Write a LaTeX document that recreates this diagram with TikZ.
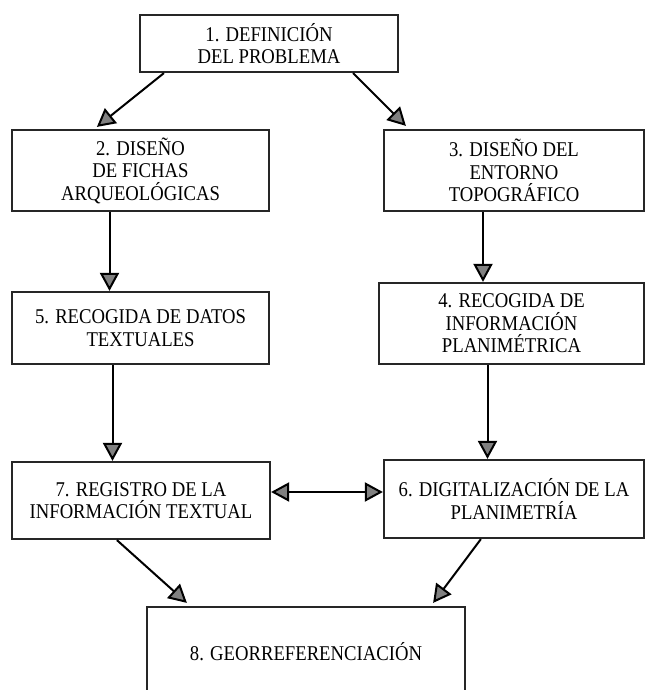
\documentclass[tikz,border=0pt]{standalone}
\usepackage{fontspec}
\setmainfont{Liberation Serif}[FakeStretch=0.89]
\usetikzlibrary{arrows.meta}

\begin{document}
\begin{tikzpicture}[x=1pt, y=-1pt,
    >={Triangle[length=18pt, width=19pt, fill=gray]},
    box/.style={draw=black!85, line width=2.2pt, align=center, inner sep=0pt,
        font=\fontsize{21}{22.5}\selectfont},
    arr/.style={draw=black, line width=2pt, ->}]
    % Page
    \path[use as bounding box, clip] (0,0) rectangle (647,690);

    % Boxes
    \node[box, minimum width=258pt, minimum height=57pt] (b1) at (269,43.5)
        {1. DEFINICIÓN\\DEL PROBLEMA};
    \node[box, minimum width=257pt, minimum height=81pt] (b2) at (140.5,170.5)
        {2. DISEÑO\\DE FICHAS\\ARQUEOLÓGICAS};
    \node[box, minimum width=260pt, minimum height=81pt] (b3) at (514,170.5)
        {3. DISEÑO DEL\\ENTORNO\\TOPOGRÁFICO};
    \node[box, minimum width=265pt, minimum height=81pt] (b4) at (511.5,323.5)
        {4. RECOGIDA DE\\INFORMACIÓN\\PLANIMÉTRICA};
    \node[box, minimum width=257pt, minimum height=72pt] (b5) at (140.5,328)
        {5. RECOGIDA DE DATOS\\TEXTUALES};
    \node[box, minimum width=260pt, minimum height=78pt] (b6) at (514,499)
        {6. DIGITALIZACIÓN DE LA\\PLANIMETRÍA};
    \node[box, minimum width=258pt, minimum height=77pt] (b7) at (141,500.5)
        {7. REGISTRO DE LA\\INFORMACIÓN TEXTUAL};
    \node[box, minimum width=318pt, minimum height=90pt] (b8) at (306,652)
        {8. GEORREFERENCIACIÓN};

    % Arrows
    \draw[arr] ([xshift=25pt]b1.south west) -- ([xshift=86pt, yshift=2pt]b2.north west);
    \draw[arr] ([xshift=-46pt]b1.south east) -- ([xshift=23pt, yshift=3pt]b3.north west);
    \draw[arr] ([xshift=-31pt]b2.south) -- ([xshift=-31pt]b5.north);
    \draw[arr] ([xshift=-31pt]b3.south) -- ([xshift=-31pt]b3.south |- b4.north);
    \draw[arr] ([xshift=-28pt]b5.south) -- ([xshift=-28pt]b5.south |- b7.north);
    \draw[arr] ([xshift=-24pt]b4.south) -- ([xshift=-24pt]b4.south |- b6.north);
    \draw[arr, <->] ([yshift=8.5pt]b7.east) -- ([yshift=8.5pt]b7.east -| b6.west);
    \draw[arr] ([xshift=106pt]b7.south west) -- ([xshift=41pt, yshift=3pt]b8.north west);
    \draw[arr] ([xshift=98pt]b6.south west) -- ([xshift=-33pt, yshift=3pt]b8.north east);
\end{tikzpicture}
\end{document}
